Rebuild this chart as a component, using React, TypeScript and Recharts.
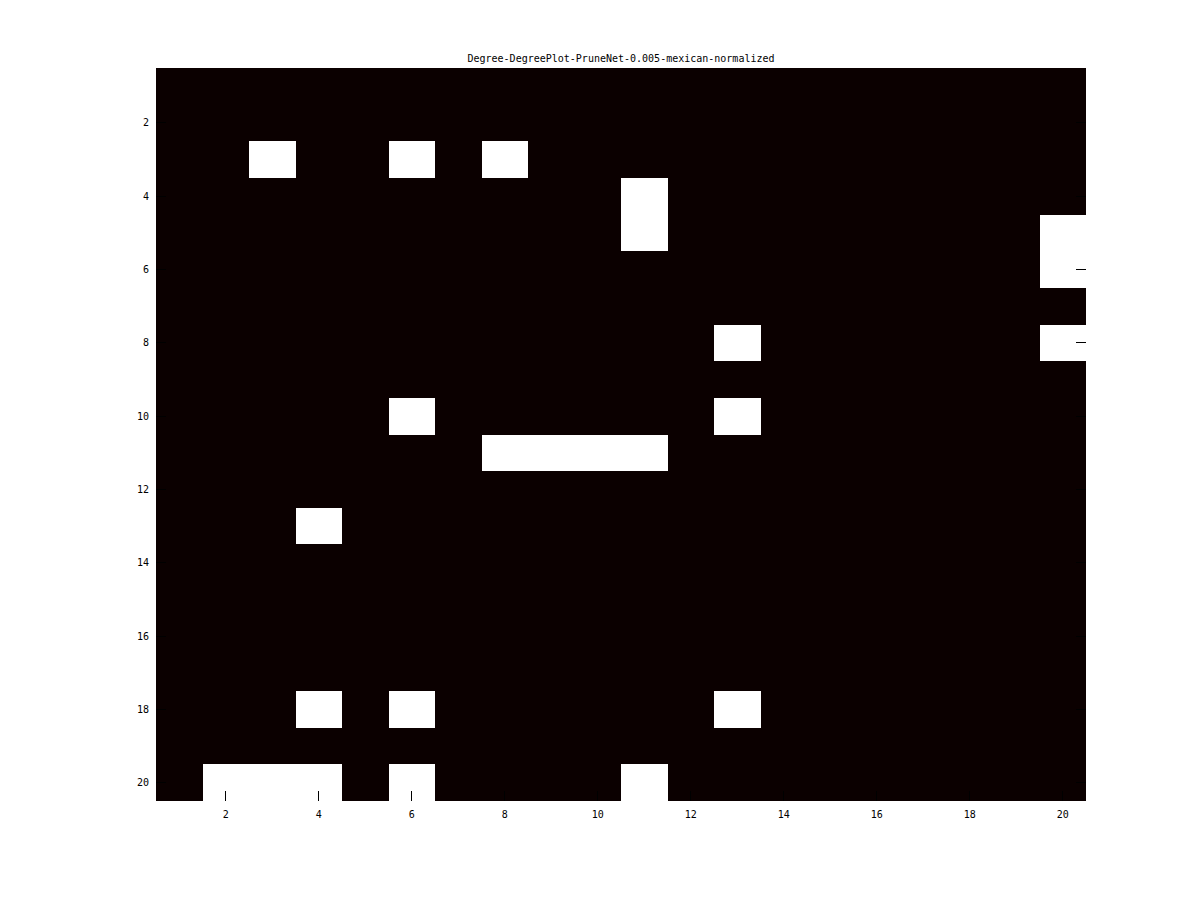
import React from 'react';
import { ScatterChart, Scatter, XAxis, YAxis, ReferenceArea, Customized } from 'recharts';

const chartTitle = 'Degree-DegreePlot-PruneNet-0.005-mexican-normalized';
const axisTicks = [2, 4, 6, 8, 10, 12, 14, 16, 18, 20];
const domainMin = 0.5;
const domainMax = 20.5;

// rows 1..20 (top to bottom), columns 1..20 (left to right); 1 = white, 0 = black
const cellValues: number[][] = [
  [0,0,0,0,0,0,0,0,0,0,0,0,0,0,0,0,0,0,0,0],
  [0,0,0,0,0,0,0,0,0,0,0,0,0,0,0,0,0,0,0,0],
  [0,0,1,0,0,1,0,1,0,0,0,0,0,0,0,0,0,0,0,0],
  [0,0,0,0,0,0,0,0,0,0,1,0,0,0,0,0,0,0,0,0],
  [0,0,0,0,0,0,0,0,0,0,1,0,0,0,0,0,0,0,0,1],
  [0,0,0,0,0,0,0,0,0,0,0,0,0,0,0,0,0,0,0,1],
  [0,0,0,0,0,0,0,0,0,0,0,0,0,0,0,0,0,0,0,0],
  [0,0,0,0,0,0,0,0,0,0,0,0,1,0,0,0,0,0,0,1],
  [0,0,0,0,0,0,0,0,0,0,0,0,0,0,0,0,0,0,0,0],
  [0,0,0,0,0,1,0,0,0,0,0,0,1,0,0,0,0,0,0,0],
  [0,0,0,0,0,0,0,1,1,1,1,0,0,0,0,0,0,0,0,0],
  [0,0,0,0,0,0,0,0,0,0,0,0,0,0,0,0,0,0,0,0],
  [0,0,0,1,0,0,0,0,0,0,0,0,0,0,0,0,0,0,0,0],
  [0,0,0,0,0,0,0,0,0,0,0,0,0,0,0,0,0,0,0,0],
  [0,0,0,0,0,0,0,0,0,0,0,0,0,0,0,0,0,0,0,0],
  [0,0,0,0,0,0,0,0,0,0,0,0,0,0,0,0,0,0,0,0],
  [0,0,0,0,0,0,0,0,0,0,0,0,0,0,0,0,0,0,0,0],
  [0,0,0,1,0,1,0,0,0,0,0,0,1,0,0,0,0,0,0,0],
  [0,0,0,0,0,0,0,0,0,0,0,0,0,0,0,0,0,0,0,0],
  [0,1,1,1,0,1,0,0,0,0,1,0,0,0,0,0,0,0,0,0],
];

const lowColor = '#0b0000';
const highColor = '#ffffff';
const FONT = '"DejaVu Sans Mono", monospace';

const cells = cellValues.flatMap((row, r) =>
  row.map((v, c) => ({ x: c + 1, y: r + 1, v }))
);

const XTick = (props: any) => {
  const { x, y, payload } = props;
  return (
    <g>
      <line x1={x} x2={x} y1={y} y2={y - 10} stroke="#000" strokeWidth={1} shapeRendering="crispEdges" />
      <text x={x} y={y + 17} textAnchor="middle" fontFamily={FONT} fontSize={10} fill="#000">
        {payload.value}
      </text>
    </g>
  );
};

const YTickLeft = (props: any) => {
  const { x, y, payload } = props;
  return (
    <g>
      <line x1={x} x2={x + 10} y1={y} y2={y} stroke="#000" strokeWidth={1} shapeRendering="crispEdges" />
      <text x={x - 7} y={y + 3.5} textAnchor="end" fontFamily={FONT} fontSize={10} fill="#000">
        {payload.value}
      </text>
    </g>
  );
};

const YTickRight = (props: any) => {
  const { x, y } = props;
  return (
    <line x1={x - 10} x2={x} y1={y} y2={y} stroke="#000" strokeWidth={1} shapeRendering="crispEdges" />
  );
};

const Title = () => (
  <text x={621} y={62} textAnchor="middle" fontFamily={FONT} fontSize={10} fill="#000">
    {chartTitle}
  </text>
);

export default function App() {
  return (
    <div style={{ position: 'absolute', left: 0, top: 0, width: 1200, height: 900, background: '#fff' }}>
      <ScatterChart width={1200} height={900} margin={{ top: 68, right: 104, bottom: 69, left: 116 }}>
        <XAxis
          type="number"
          dataKey="x"
          domain={[domainMin, domainMax]}
          ticks={axisTicks}
          allowDataOverflow
          height={30}
          axisLine={false}
          tickLine={false}
          tickSize={0}
          tickMargin={0}
          tick={<XTick />}
          interval={0}
        />
        <YAxis
          yAxisId="left"
          type="number"
          dataKey="y"
          domain={[domainMin, domainMax]}
          ticks={axisTicks}
          reversed
          allowDataOverflow
          width={40}
          axisLine={false}
          tickLine={false}
          tickSize={0}
          tickMargin={0}
          tick={<YTickLeft />}
          interval={0}
        />
        <YAxis
          yAxisId="right"
          orientation="right"
          type="number"
          dataKey="y"
          domain={[domainMin, domainMax]}
          ticks={axisTicks}
          reversed
          allowDataOverflow
          width={10}
          axisLine={false}
          tickLine={false}
          tickSize={0}
          tickMargin={0}
          tick={<YTickRight />}
          interval={0}
        />
        <ReferenceArea
          yAxisId="left"
          x1={domainMin}
          x2={domainMax}
          y1={domainMin}
          y2={domainMax}
          fill={lowColor}
          fillOpacity={1}
          stroke="none"
          shapeRendering="crispEdges"
          ifOverflow="visible"
        />
        {cells
          .filter((c) => c.v === 1)
          .map((c) => (
            <ReferenceArea
              key={`${c.x}-${c.y}`}
              yAxisId="left"
              x1={c.x - 0.5}
              x2={c.x + 0.5}
              y1={c.y - 0.5}
              y2={c.y + 0.5}
              fill={highColor}
              fillOpacity={1}
              stroke="none"
              shapeRendering="crispEdges"
              ifOverflow="visible"
            />
          ))}
        <Scatter
          yAxisId="left"
          data={cells}
          isAnimationActive={false}
          shape={() => <g />}
        />
        <Customized component={Title} />
      </ScatterChart>
    </div>
  );
}
